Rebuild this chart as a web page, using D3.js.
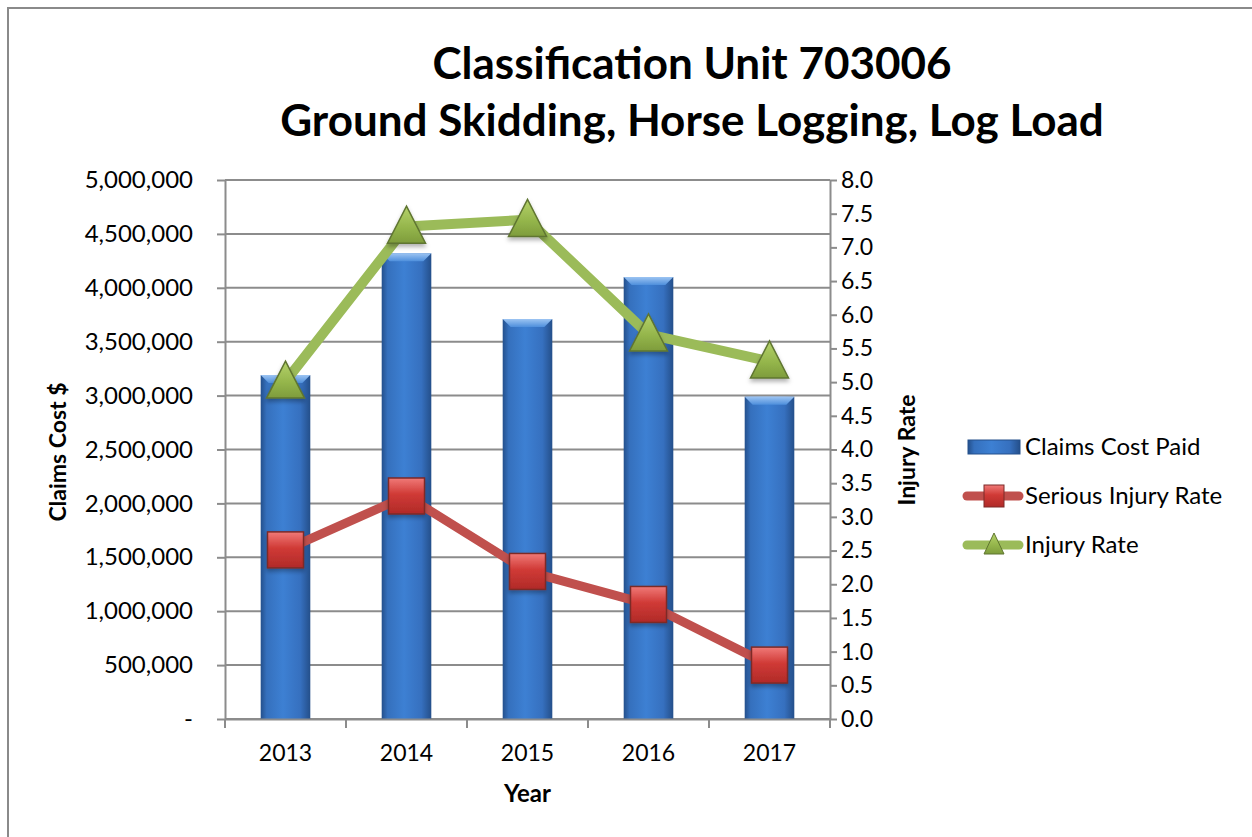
<!DOCTYPE html>
<html>
<head>
<meta charset="utf-8">
<script src="https://cdn.jsdelivr.net/npm/d3@7"></script>
<style>
  body { margin: 0; background: #fff; }
  text { font-family: Lato, "Open Sans", sans-serif; fill: #000; }
</style>
</head>
<body>
<div id="chart"></div>
<script>
// data
const years = ["2013", "2014", "2015", "2016", "2017"];
const claimsCost = [3190000, 4320000, 3710000, 4100000, 2990000];
const seriousRate = [2.51, 3.31, 2.19, 1.70, 0.80];
const injuryRate = [5.01, 7.31, 7.41, 5.71, 5.31];
const leftTicks = [0, 500000, 1000000, 1500000, 2000000, 2500000, 3000000, 3500000, 4000000, 4500000, 5000000];
const rightTicks = d3.range(0, 8.01, 0.5);
const legendLabels = ["Claims Cost Paid", "Serious Injury Rate", "Injury Rate"];

const W = 1252, H = 837;
const plot = { left: 225, right: 830, top: 180, bottom: 719 };

const svg = d3.select("#chart").append("svg")
  .attr("width", W).attr("height", H);

const defs = svg.append("defs");

// bar gradient (left/right darker edges)
const barGrad = defs.append("linearGradient").attr("id", "barGrad")
  .attr("x1", "0").attr("x2", "1").attr("y1", "0").attr("y2", "0");
[["0%", "#24508c"], ["12%", "#3570bd"], ["45%", "#3d80d3"], ["80%", "#3670bf"], ["100%", "#244f8a"]]
  .forEach(([o, c]) => barGrad.append("stop").attr("offset", o).attr("stop-color", c));

const capGrad = defs.append("linearGradient").attr("id", "capGrad")
  .attr("x1", "0").attr("x2", "0").attr("y1", "0").attr("y2", "1");
[["0%", "#9cc4f2"], ["100%", "#4e8fdc"]]
  .forEach(([o, c]) => capGrad.append("stop").attr("offset", o).attr("stop-color", c));

const sqGrad = defs.append("linearGradient").attr("id", "sqGrad")
  .attr("x1", "0").attr("x2", "0").attr("y1", "0").attr("y2", "1");
[["0%", "#f07a78"], ["45%", "#d03a36"], ["100%", "#b02a28"]]
  .forEach(([o, c]) => sqGrad.append("stop").attr("offset", o).attr("stop-color", c));

const triGrad = defs.append("linearGradient").attr("id", "triGrad")
  .attr("x1", "0").attr("x2", "0").attr("y1", "0").attr("y2", "1");
[["0%", "#b5d26a"], ["60%", "#93b44a"], ["100%", "#7e9c3c"]]
  .forEach(([o, c]) => triGrad.append("stop").attr("offset", o).attr("stop-color", c));

const shadow = defs.append("filter").attr("id", "shadow")
  .attr("x", "-30%").attr("y", "-30%").attr("width", "160%").attr("height", "160%");
shadow.append("feDropShadow").attr("dx", 0).attr("dy", 3).attr("stdDeviation", 2)
  .attr("flood-color", "#000").attr("flood-opacity", 0.3);

// outer frame (only left and top visible)
svg.append("path")
  .attr("d", `M8,${H + 5}V8H${W + 5}`)
  .attr("fill", "none").attr("stroke", "#8a8a8a").attr("stroke-width", 2);

// title
svg.append("text").attr("x", 692).attr("y", 79).attr("text-anchor", "middle")
  .style("font-size", "44px").style("font-weight", "bold").text("Classification Unit 703006");
svg.append("text").attr("x", 692).attr("y", 136).attr("text-anchor", "middle")
  .style("font-size", "44px").style("font-weight", "bold").text("Ground Skidding, Horse Logging, Log Load");

// scales
const x = d3.scaleBand().domain(years).range([plot.left, plot.right]).padding(0);
const yL = d3.scaleLinear().domain([0, 5000000]).range([plot.bottom, plot.top]);
const yR = d3.scaleLinear().domain([0, 8]).range([plot.bottom, plot.top]);

// gridlines
svg.append("g").selectAll("line").data(leftTicks).join("line")
  .attr("x1", plot.left).attr("x2", plot.right)
  .attr("y1", d => yL(d)).attr("y2", d => yL(d))
  .attr("stroke", "#8c8c8c").attr("stroke-width", 2);

// bars
const barW = x.bandwidth() * 0.41;
const bars = svg.append("g");
bars.selectAll("rect").data(claimsCost).join("rect")
  .attr("x", (d, i) => x(years[i]) + (x.bandwidth() - barW) / 2)
  .attr("y", d => yL(d))
  .attr("width", barW)
  .attr("height", d => yL(0) - yL(d))
  .attr("fill", "url(#barGrad)");
bars.selectAll("path").data(claimsCost).join("path")
  .attr("d", (d, i) => {
    const x0 = x(years[i]) + (x.bandwidth() - barW) / 2, y0 = yL(d);
    return `M${x0},${y0}H${x0 + barW}L${x0 + barW - 8},${y0 + 8}H${x0 + 8}Z`;
  })
  .attr("fill", "url(#capGrad)");

// axes
const axisColor = "#8c8c8c";
function styleAxis(g, size) {
  g.select(".domain").attr("stroke", axisColor).attr("stroke-width", 2);
  g.selectAll(".tick line").attr("stroke", axisColor).attr("stroke-width", 2);
  g.selectAll(".tick text").style("font-size", size).attr("fill", "#000");
}

svg.append("g").attr("transform", `translate(${plot.left},0)`)
  .call(d3.axisLeft(yL).tickValues(leftTicks).tickSize(8).tickPadding(24).tickSizeOuter(0)
    .tickFormat(d => d === 0 ? "-" : d3.format(",")(d)))
  .call(styleAxis, "24px");

svg.append("g").attr("transform", `translate(${plot.right},0)`)
  .call(d3.axisRight(yR).tickValues(rightTicks).tickSize(7).tickPadding(4).tickSizeOuter(0)
    .tickFormat(d3.format(".1f")))
  .call(styleAxis, "23px");

const xAxis = svg.append("g").attr("transform", `translate(0,${plot.bottom})`)
  .call(d3.axisBottom(x).tickSize(0).tickPadding(26))
  .call(styleAxis, "23px");
xAxis.selectAll(".bnd").data(d3.range(years.length + 1)).join("line")
  .attr("class", "bnd")
  .attr("x1", i => plot.left + i * x.bandwidth()).attr("x2", i => plot.left + i * x.bandwidth())
  .attr("y1", 0).attr("y2", 9)
  .attr("stroke", axisColor).attr("stroke-width", 2);

// axis titles
svg.append("text").attr("transform", "translate(66,452) rotate(-90)")
  .attr("text-anchor", "middle").style("font-size", "23px").style("font-weight", "bold")
  .text("Claims Cost $");
svg.append("text").attr("transform", "translate(915,450) rotate(-90)")
  .attr("text-anchor", "middle").style("font-size", "23px").style("font-weight", "bold")
  .text("Injury Rate");
svg.append("text").attr("x", x("2015") + x.bandwidth() / 2).attr("y", 802)
  .attr("text-anchor", "middle").style("font-size", "24px").style("font-weight", "bold")
  .text("Year");

// lines
const cx = i => x(years[i]) + x.bandwidth() / 2;
const line = d3.line().x((d, i) => cx(i)).y(d => yR(d));

svg.append("path").datum(seriousRate)
  .attr("d", line).attr("fill", "none")
  .attr("stroke", "#c0504d").attr("stroke-width", 9).attr("stroke-linejoin", "round");
svg.append("path").datum(injuryRate)
  .attr("d", line).attr("fill", "none")
  .attr("stroke", "#9bbb59").attr("stroke-width", 10).attr("stroke-linejoin", "round");

// markers
const sq = 36;
svg.append("g").selectAll("rect").data(seriousRate).join("rect")
  .attr("x", (d, i) => cx(i) - sq / 2).attr("y", d => yR(d) - sq / 2)
  .attr("width", sq).attr("height", sq)
  .attr("fill", "url(#sqGrad)").attr("stroke", "#7d2a28").attr("stroke-width", 1.5)
  .attr("filter", "url(#shadow)");

const triW = 38, triH = 37;
const triPath = (px, py) => `M${px},${py - triH * 0.55}L${px + triW / 2},${py + triH * 0.45}L${px - triW / 2},${py + triH * 0.45}Z`;
svg.append("g").selectAll("path").data(injuryRate).join("path")
  .attr("d", (d, i) => triPath(cx(i), yR(d)))
  .attr("fill", "url(#triGrad)").attr("stroke", "#5f7530").attr("stroke-width", 1.5)
  .attr("filter", "url(#shadow)");

// legend
const legend = svg.append("g");
const legY = [447, 496, 545];
legend.append("rect").attr("x", 968).attr("y", legY[0] - 7).attr("width", 52).attr("height", 14)
  .attr("fill", "url(#barGrad)").attr("stroke", "#24508c").attr("stroke-width", 1);
legend.append("line").attr("x1", 967).attr("x2", 1019).attr("y1", legY[1]).attr("y2", legY[1])
  .attr("stroke", "#c0504d").attr("stroke-width", 9).attr("stroke-linecap", "round");
legend.append("rect").attr("x", 984).attr("y", legY[1] - 11).attr("width", 20).attr("height", 22)
  .attr("fill", "url(#sqGrad)").attr("stroke", "#7d2a28").attr("stroke-width", 1);
legend.append("line").attr("x1", 967).attr("x2", 1019).attr("y1", legY[2]).attr("y2", legY[2])
  .attr("stroke", "#9bbb59").attr("stroke-width", 9).attr("stroke-linecap", "round");
legend.append("path")
  .attr("d", `M994,${legY[2] - 12}L1004,${legY[2] + 9}L984,${legY[2] + 9}Z`)
  .attr("fill", "url(#triGrad)").attr("stroke", "#5f7530").attr("stroke-width", 1);
legend.selectAll("text").data(legendLabels).join("text")
  .attr("x", 1025).attr("y", (d, i) => legY[i]).attr("dy", "0.35em")
  .style("font-size", "24px").text(d => d);
</script>
</body>
</html>
